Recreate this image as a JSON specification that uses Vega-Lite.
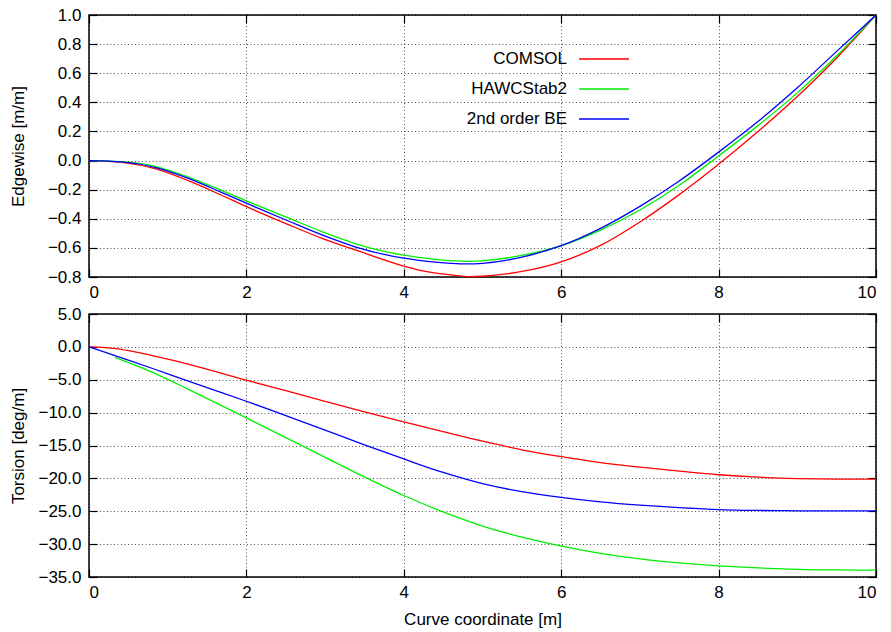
{
  "$schema": "https://vega.github.io/schema/vega-lite/v6.json",
  "background": "white",
  "padding": {"left": 8, "top": 5, "right": 5, "bottom": 5},
  "datasets": {
    "edge": [
      {"x": 0, "v": 0, "s": "COMSOL"}, {"x": 0.42, "v": -0.012, "s": "COMSOL"}, {"x": 0.85, "v": -0.057, "s": "COMSOL"}, {"x": 1.27, "v": -0.14, "s": "COMSOL"}, {"x": 1.69, "v": -0.24, "s": "COMSOL"}, {"x": 2.0, "v": -0.316, "s": "COMSOL"}, {"x": 2.54, "v": -0.442, "s": "COMSOL"}, {"x": 2.96, "v": -0.534, "s": "COMSOL"}, {"x": 3.39, "v": -0.615, "s": "COMSOL"}, {"x": 4.0, "v": -0.725, "s": "COMSOL"}, {"x": 4.19, "v": -0.752, "s": "COMSOL"}, {"x": 4.6, "v": -0.786, "s": "COMSOL"}, {"x": 4.85, "v": -0.797, "s": "COMSOL"}, {"x": 5.0, "v": -0.795, "s": "COMSOL"}, {"x": 5.5, "v": -0.762, "s": "COMSOL"}, {"x": 6.0, "v": -0.696, "s": "COMSOL"}, {"x": 6.5, "v": -0.583, "s": "COMSOL"}, {"x": 7.0, "v": -0.422, "s": "COMSOL"}, {"x": 7.5, "v": -0.234, "s": "COMSOL"}, {"x": 8.0, "v": -0.026, "s": "COMSOL"}, {"x": 8.5, "v": 0.199, "s": "COMSOL"}, {"x": 9.0, "v": 0.44, "s": "COMSOL"}, {"x": 9.5, "v": 0.705, "s": "COMSOL"}, {"x": 10, "v": 1.0, "s": "COMSOL"},
      {"x": 0, "v": 0, "s": "HAWCStab2"}, {"x": 0.42, "v": -0.008, "s": "HAWCStab2"}, {"x": 0.85, "v": -0.041, "s": "HAWCStab2"}, {"x": 1.27, "v": -0.115, "s": "HAWCStab2"}, {"x": 1.69, "v": -0.206, "s": "HAWCStab2"}, {"x": 2.0, "v": -0.277, "s": "HAWCStab2"}, {"x": 2.54, "v": -0.396, "s": "HAWCStab2"}, {"x": 2.96, "v": -0.488, "s": "HAWCStab2"}, {"x": 3.39, "v": -0.572, "s": "HAWCStab2"}, {"x": 4.0, "v": -0.65, "s": "HAWCStab2"}, {"x": 4.19, "v": -0.665, "s": "HAWCStab2"}, {"x": 4.6, "v": -0.687, "s": "HAWCStab2"}, {"x": 4.85, "v": -0.692, "s": "HAWCStab2"}, {"x": 5.0, "v": -0.688, "s": "HAWCStab2"}, {"x": 5.5, "v": -0.652, "s": "HAWCStab2"}, {"x": 6.0, "v": -0.585, "s": "HAWCStab2"}, {"x": 6.5, "v": -0.478, "s": "HAWCStab2"}, {"x": 7.0, "v": -0.34, "s": "HAWCStab2"}, {"x": 7.5, "v": -0.17, "s": "HAWCStab2"}, {"x": 8.0, "v": 0.032, "s": "HAWCStab2"}, {"x": 8.5, "v": 0.24, "s": "HAWCStab2"}, {"x": 9.0, "v": 0.465, "s": "HAWCStab2"}, {"x": 9.5, "v": 0.72, "s": "HAWCStab2"}, {"x": 10, "v": 1.0, "s": "HAWCStab2"},
      {"x": 0, "v": 0, "s": "2nd order BE"}, {"x": 0.42, "v": -0.009, "s": "2nd order BE"}, {"x": 0.85, "v": -0.048, "s": "2nd order BE"}, {"x": 1.27, "v": -0.124, "s": "2nd order BE"}, {"x": 1.69, "v": -0.22, "s": "2nd order BE"}, {"x": 2.0, "v": -0.293, "s": "2nd order BE"}, {"x": 2.54, "v": -0.417, "s": "2nd order BE"}, {"x": 2.96, "v": -0.511, "s": "2nd order BE"}, {"x": 3.39, "v": -0.594, "s": "2nd order BE"}, {"x": 4.0, "v": -0.671, "s": "2nd order BE"}, {"x": 4.19, "v": -0.686, "s": "2nd order BE"}, {"x": 4.6, "v": -0.706, "s": "2nd order BE"}, {"x": 4.8, "v": -0.71, "s": "2nd order BE"}, {"x": 5.0, "v": -0.706, "s": "2nd order BE"}, {"x": 5.5, "v": -0.664, "s": "2nd order BE"}, {"x": 6.0, "v": -0.585, "s": "2nd order BE"}, {"x": 6.5, "v": -0.466, "s": "2nd order BE"}, {"x": 7.0, "v": -0.315, "s": "2nd order BE"}, {"x": 7.5, "v": -0.14, "s": "2nd order BE"}, {"x": 8.0, "v": 0.058, "s": "2nd order BE"}, {"x": 8.5, "v": 0.268, "s": "2nd order BE"}, {"x": 9.0, "v": 0.5, "s": "2nd order BE"}, {"x": 9.5, "v": 0.75, "s": "2nd order BE"}, {"x": 10, "v": 1.0, "s": "2nd order BE"}
    ],
    "tors": [
      {"x": 0, "v": 0, "s": "COMSOL"}, {"x": 0.17, "v": -0.07, "s": "COMSOL"}, {"x": 0.34, "v": -0.28, "s": "COMSOL"}, {"x": 0.6, "v": -0.8, "s": "COMSOL"}, {"x": 0.85, "v": -1.45, "s": "COMSOL"}, {"x": 1.27, "v": -2.65, "s": "COMSOL"}, {"x": 2, "v": -5.07, "s": "COMSOL"}, {"x": 2.5, "v": -6.67, "s": "COMSOL"}, {"x": 3, "v": -8.28, "s": "COMSOL"}, {"x": 3.5, "v": -9.9, "s": "COMSOL"}, {"x": 4, "v": -11.42, "s": "COMSOL"}, {"x": 4.5, "v": -12.9, "s": "COMSOL"}, {"x": 5, "v": -14.35, "s": "COMSOL"}, {"x": 5.5, "v": -15.65, "s": "COMSOL"}, {"x": 6, "v": -16.7, "s": "COMSOL"}, {"x": 6.5, "v": -17.6, "s": "COMSOL"}, {"x": 7, "v": -18.3, "s": "COMSOL"}, {"x": 7.5, "v": -18.9, "s": "COMSOL"}, {"x": 8, "v": -19.45, "s": "COMSOL"}, {"x": 8.5, "v": -19.82, "s": "COMSOL"}, {"x": 9, "v": -20.03, "s": "COMSOL"}, {"x": 9.5, "v": -20.1, "s": "COMSOL"}, {"x": 10, "v": -20.1, "s": "COMSOL"},
      {"x": 0.33, "v": -1.6, "s": "HAWCStab2"}, {"x": 0.85, "v": -4.1, "s": "HAWCStab2"}, {"x": 1.27, "v": -6.5, "s": "HAWCStab2"}, {"x": 2, "v": -10.8, "s": "HAWCStab2"}, {"x": 2.5, "v": -13.8, "s": "HAWCStab2"}, {"x": 3, "v": -16.8, "s": "HAWCStab2"}, {"x": 3.4, "v": -19.2, "s": "HAWCStab2"}, {"x": 4, "v": -22.6, "s": "HAWCStab2"}, {"x": 4.5, "v": -25.1, "s": "HAWCStab2"}, {"x": 5, "v": -27.25, "s": "HAWCStab2"}, {"x": 5.5, "v": -28.95, "s": "HAWCStab2"}, {"x": 6, "v": -30.3, "s": "HAWCStab2"}, {"x": 6.5, "v": -31.4, "s": "HAWCStab2"}, {"x": 7, "v": -32.25, "s": "HAWCStab2"}, {"x": 7.5, "v": -32.85, "s": "HAWCStab2"}, {"x": 8, "v": -33.3, "s": "HAWCStab2"}, {"x": 8.5, "v": -33.62, "s": "HAWCStab2"}, {"x": 9, "v": -33.83, "s": "HAWCStab2"}, {"x": 9.5, "v": -33.93, "s": "HAWCStab2"}, {"x": 10, "v": -33.95, "s": "HAWCStab2"},
      {"x": 0, "v": 0, "s": "2nd order BE"}, {"x": 0.5, "v": -2.0, "s": "2nd order BE"}, {"x": 1, "v": -4.1, "s": "2nd order BE"}, {"x": 1.5, "v": -6.2, "s": "2nd order BE"}, {"x": 2, "v": -8.27, "s": "2nd order BE"}, {"x": 2.5, "v": -10.45, "s": "2nd order BE"}, {"x": 3, "v": -12.65, "s": "2nd order BE"}, {"x": 3.5, "v": -14.9, "s": "2nd order BE"}, {"x": 4, "v": -17.05, "s": "2nd order BE"}, {"x": 4.5, "v": -19.1, "s": "2nd order BE"}, {"x": 5, "v": -20.8, "s": "2nd order BE"}, {"x": 5.5, "v": -22.02, "s": "2nd order BE"}, {"x": 6, "v": -22.9, "s": "2nd order BE"}, {"x": 6.5, "v": -23.58, "s": "2nd order BE"}, {"x": 7, "v": -24.08, "s": "2nd order BE"}, {"x": 7.5, "v": -24.45, "s": "2nd order BE"}, {"x": 8, "v": -24.75, "s": "2nd order BE"}, {"x": 8.5, "v": -24.88, "s": "2nd order BE"}, {"x": 9, "v": -24.93, "s": "2nd order BE"}, {"x": 9.5, "v": -24.95, "s": "2nd order BE"}, {"x": 10, "v": -24.95, "s": "2nd order BE"}
    ]
  },
  "vconcat": [
    {
      "width": 787,
      "height": 262,
      "data": {"name": "edge"},
      "layer": [
        {
          "mark": {"type": "line", "strokeWidth": 1.3, "interpolate": "monotone"},
          "encoding": {
            "x": {"field": "x", "type": "quantitative", "scale": {"domain": [0, 10], "nice": false}, "axis": {"title": null, "values": [0, 2, 4, 6, 8, 10], "format": "d", "orient": "bottom"}},
            "y": {"field": "v", "type": "quantitative", "scale": {"domain": [-0.8, 1.0], "nice": false, "zero": false}, "axis": {"title": "Edgewise [m/m]", "values": [-0.8, -0.6, -0.4, -0.2, 0, 0.2, 0.4, 0.6, 0.8, 1.0], "format": ".1f", "orient": "left"}},
            "color": {
              "field": "s", "type": "nominal",
              "scale": {"domain": ["COMSOL", "HAWCStab2", "2nd order BE"], "range": ["#ff0000", "#00ee00", "#0000ff"]},
              "legend": {"orient": "none", "legendX": 504, "legendY": 33, "title": null, "symbolType": "M-2.5,0H2.5", "symbolSize": 400, "symbolStrokeWidth": 1.3, "symbolFillColor": "transparent", "labelAlign": "right", "labelOffset": -48, "rowPadding": 11, "labelFontSize": 17, "padding": 0}
            }
          }
        },
        {
          "mark": {"type": "line", "opacity": 0},
          "encoding": {
            "x": {"field": "x", "type": "quantitative", "scale": {"domain": [0, 10], "nice": false}, "axis": {"title": null, "values": [0, 2, 4, 6, 8, 10], "labels": false, "grid": false, "orient": "top"}},
            "y": {"field": "v", "type": "quantitative", "scale": {"domain": [-0.8, 1.0], "nice": false, "zero": false}, "axis": {"title": null, "values": [-0.8, -0.6, -0.4, -0.2, 0, 0.2, 0.4, 0.6, 0.8, 1.0], "labels": false, "grid": false, "orient": "right"}},
            "detail": {"field": "s"}
          }
        }
      ],
      "resolve": {"scale": {"x": "independent", "y": "independent"}}
    },
    {
      "width": 787,
      "height": 263,
      "data": {"name": "tors"},
      "layer": [
        {
          "mark": {"type": "line", "strokeWidth": 1.3, "interpolate": "monotone"},
          "encoding": {
            "x": {"field": "x", "type": "quantitative", "scale": {"domain": [0, 10], "nice": false}, "axis": {"title": "Curve coordinate [m]", "values": [0, 2, 4, 6, 8, 10], "format": "d", "orient": "bottom"}},
            "y": {"field": "v", "type": "quantitative", "scale": {"domain": [-35, 5], "nice": false, "zero": false}, "axis": {"title": "Torsion [deg/m]", "values": [-35, -30, -25, -20, -15, -10, -5, 0, 5], "format": ".1f", "orient": "left"}},
            "color": {"field": "s", "type": "nominal", "scale": {"domain": ["COMSOL", "HAWCStab2", "2nd order BE"], "range": ["#ff0000", "#00ee00", "#0000ff"]}, "legend": null}
          }
        },
        {
          "mark": {"type": "line", "opacity": 0},
          "encoding": {
            "x": {"field": "x", "type": "quantitative", "scale": {"domain": [0, 10], "nice": false}, "axis": {"title": null, "values": [0, 2, 4, 6, 8, 10], "labels": false, "grid": false, "orient": "top"}},
            "y": {"field": "v", "type": "quantitative", "scale": {"domain": [-35, 5], "nice": false, "zero": false}, "axis": {"title": null, "values": [-35, -30, -25, -20, -15, -10, -5, 0, 5], "labels": false, "grid": false, "orient": "right"}},
            "detail": {"field": "s"}
          }
        }
      ],
      "resolve": {"scale": {"x": "independent", "y": "independent"}}
    }
  ],
  "spacing": 37,
  "bounds": "flush",
  "resolve": {"legend": {"color": "independent"}},
  "config": {
    "font": "Liberation Sans",
    "view": {"stroke": "#000000", "strokeWidth": 1.5},
    "axis": {
      "domain": false,
      "grid": true,
      "gridColor": "#000000",
      "gridDash": [1, 2.5],
      "gridOpacity": 0.7,
      "gridWidth": 1,
      "ticks": true,
      "tickColor": "#000000",
      "tickSize": -8,
      "tickWidth": 1.2,
      "labelFontSize": 17,
      "labelColor": "#000000",
      "labelPadding": 18,
      "titleFontSize": 17,
      "titleFontWeight": "normal",
      "titleColor": "#000000"
    },
    "axisLeft": {"titleX": -66, "titleBaseline": "alphabetic", "labelPadding": 16},
    "axisBottom": {"titlePadding": 11, "labelPadding": 15},
    "legend": {"labelColor": "#000000", "labelFont": "Liberation Sans"}
  }
}
